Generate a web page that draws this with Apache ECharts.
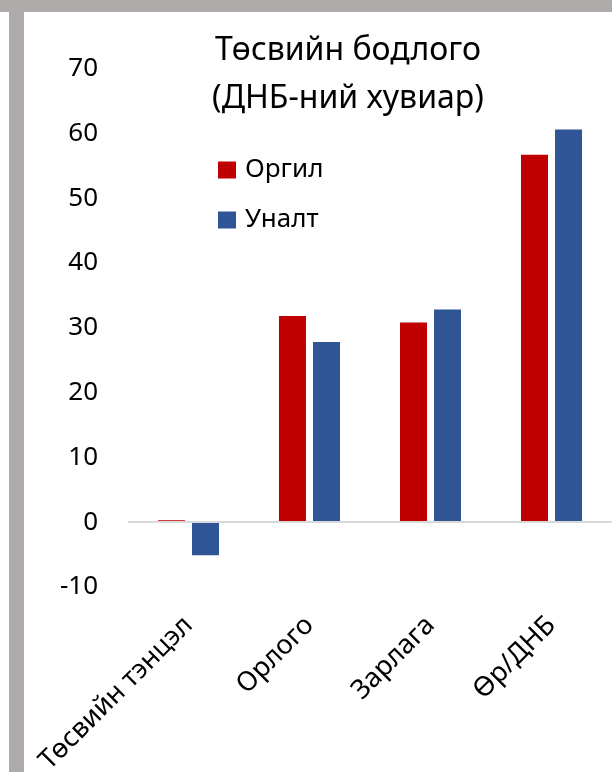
<!DOCTYPE html>
<html>
<head>
<meta charset="utf-8">
<script src="https://cdn.jsdelivr.net/npm/echarts@6/dist/echarts.min.js"></script>
<style>
  html, body { margin: 0; padding: 0; background: #fff; }
  #main { width: 612px; height: 772px; }
</style>
</head>
<body>
<div id="main"></div>
<script>
// өгөгдөл
var categories = ["Төсвийн тэнцэл", "Орлого", "Зарлага", "Өр/ДНБ"];
var orgilValues = [0.3, 31.8, 30.8, 56.7];
var unaltValues = [-5.1, 27.8, 32.8, 60.6];
var seriesNames = ["Оргил", "Уналт"];

var font = "Noto Sans";

var myChart = echarts.init(document.getElementById("main"));

var option = {
  backgroundColor: "#fff",
  animation: false,
  textStyle: { fontFamily: font, color: "#000" },
  title: {
    text: "Төсвийн бодлого\n(ДНБ-ний хувиар)",
    left: 343,
    top: 22,
    textAlign: "center",
    textStyle: {
      fontFamily: font,
      fontSize: 32,
      fontWeight: "normal",
      color: "#000",
      lineHeight: 48
    }
  },
  legend: {
    data: seriesNames,
    orient: "vertical",
    left: 213,
    top: 152,
    itemWidth: 18,
    itemHeight: 17,
    itemGap: 24,
    icon: "rect",
    textStyle: { fontFamily: font, fontSize: 26, color: "#000", lineHeight: 26, padding: [0, 0, 0, 4] }
  },
  grid: {
    left: 128,
    right: 0,
    top: 68.5,
    bottom: 185,
    containLabel: false,
    outerBoundsMode: "none"
  },
  xAxis: {
    type: "category",
    data: categories,
    axisLine: { show: false, onZero: false },
    axisTick: { show: false },
    axisLabel: {
      rotate: 45,
      margin: 34,
      fontFamily: font,
      fontSize: 27,
      color: "#000",
      interval: 0
    }
  },
  yAxis: {
    type: "value",
    min: -10,
    max: 70,
    interval: 10,
    axisLine: { show: false },
    axisTick: { show: false },
    splitLine: { show: false },
    axisLabel: { fontFamily: font, fontSize: 26, color: "#000", margin: 30 }
  },
  series: [
    {
      name: seriesNames[0],
      type: "bar",
      data: orgilValues,
      barWidth: 27,
      barGap: "26%",
      itemStyle: { color: "#c00000" },
      markLine: {
        silent: true,
        symbol: "none",
        label: { show: false },
        lineStyle: { color: "#d9d9d9", width: 2, type: "solid" },
        data: [{ yAxis: 0 }]
      }
    },
    {
      name: seriesNames[1],
      type: "bar",
      data: unaltValues,
      barWidth: 27,
      barGap: "26%",
      itemStyle: { color: "#2f5597" }
    }
  ],
  graphic: [
    { type: "rect", shape: { x: 0, y: 0, width: 612, height: 12 }, style: { fill: "#aeaaaa" } },
    { type: "rect", shape: { x: 9, y: 12, width: 15, height: 760 }, style: { fill: "#aeaaaa" } }
  ]
};

myChart.setOption(option);
</script>
</body>
</html>
